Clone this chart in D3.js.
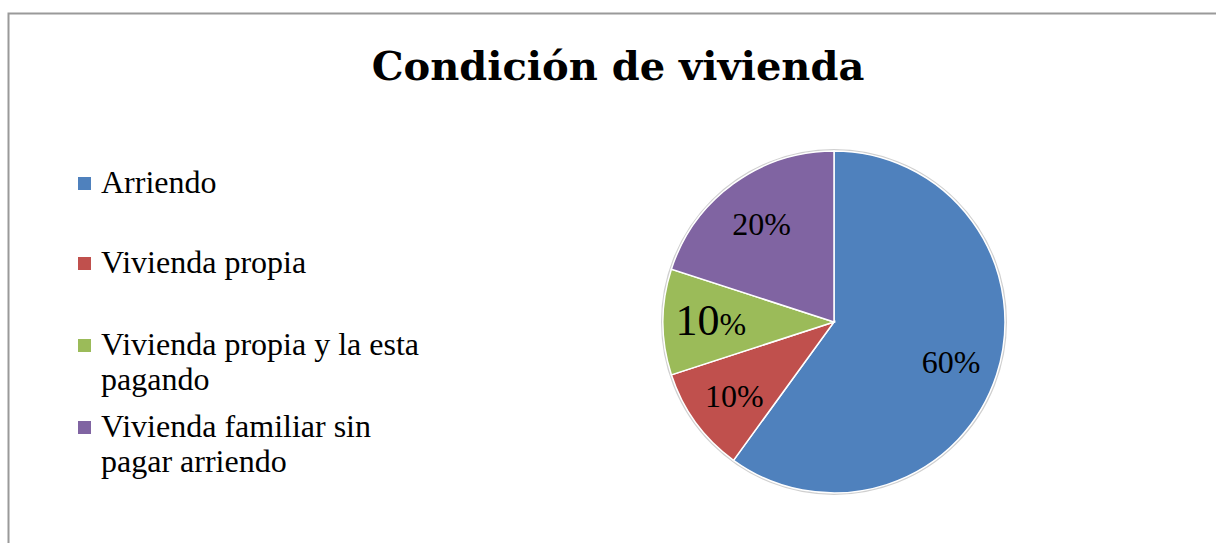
<!DOCTYPE html>
<html>
<head>
<meta charset="utf-8">
<script src="https://cdn.jsdelivr.net/npm/d3@7"></script>
<style>
  body { margin: 0; background: #fff; }
  svg { display: block; }
</style>
</head>
<body>
<div id="chart"></div>
<script>
// Data
const categories = [
  "Arriendo",
  "Vivienda propia",
  "Vivienda propia y la esta pagando",
  "Vivienda familiar sin pagar arriendo",
];
const values = [60, 10, 10, 20];
const legendLines = [
  ["Arriendo"],
  ["Vivienda propia"],
  ["Vivienda propia y la esta", "pagando"],
  ["Vivienda familiar sin", "pagar arriendo"],
];
const colors = ["#4F81BD", "#C0504D", "#9BBB59", "#8064A2"];

const width = 1216;
const height = 543;
const titleFont = "'DejaVu Serif', 'Liberation Serif', serif";
const bodyFont = "'Liberation Serif', 'DejaVu Serif', serif";

const svg = d3
  .select("#chart")
  .append("svg")
  .attr("width", width)
  .attr("height", height);

// Frame (runs off the right and bottom edges)
svg
  .append("rect")
  .attr("x", 8.5)
  .attr("y", 13.5)
  .attr("width", width + 20)
  .attr("height", height + 20)
  .attr("fill", "none")
  .attr("stroke", "#9a9a9a")
  .attr("stroke-width", 2);

// Title
svg
  .append("text")
  .attr("x", 618)
  .attr("y", 80)
  .attr("text-anchor", "middle")
  .style("font-family", titleFont)
  .style("font-size", "40px")
  .style("font-weight", "bold")
  .text("Condición de vivienda");

// Pie
const cx = 834;
const cy = 322;
const radius = 171;

const pie = d3.pie().sort(null).value((d) => d);
const arcs = pie(values);

const arc = d3.arc().innerRadius(0).outerRadius(radius);
const labelArc = d3
  .arc()
  .innerRadius(radius * 0.72)
  .outerRadius(radius * 0.72);

const g = svg.append("g").attr("transform", `translate(${cx},${cy})`);

g.append("circle")
  .attr("r", radius + 1)
  .attr("fill", "none")
  .attr("stroke", "#d0d0d0")
  .attr("stroke-width", 2);

g.selectAll("path.slice")
  .data(arcs)
  .join("path")
  .attr("class", "slice")
  .attr("d", arc)
  .attr("fill", (d, i) => colors[i])
  .attr("stroke", "#fff")
  .attr("stroke-width", 1.5);

// Slice labels (the green one has a bigger number, as in the original)
const labels = g
  .selectAll("text.label")
  .data(arcs)
  .join("text")
  .attr("class", "label")
  .attr("transform", (d) => `translate(${labelArc.centroid(d)})`)
  .attr("text-anchor", "middle")
  .attr("dy", "0.4em")
  .style("font-family", bodyFont)
  .style("font-size", "32px")
  .style("fill", "#000");

labels.each(function (d, i) {
  const t = d3.select(this);
  if (i === 2) {
    t.append("tspan").style("font-size", "44px").text(d.data);
    t.append("tspan").text("%");
  } else {
    t.text(d.data + "%");
  }
});

// Legend
const legendY = [193, 273, 355, 437];
const legend = svg.append("g");

legendLines.forEach((lines, i) => {
  const row = legend.append("g").attr("transform", `translate(78, ${legendY[i]})`);

  row
    .append("rect")
    .attr("x", 0)
    .attr("y", -16)
    .attr("width", 13)
    .attr("height", 13)
    .attr("fill", colors[i]);

  const text = row
    .append("text")
    .attr("x", 23)
    .attr("y", 0)
    .style("font-family", bodyFont)
    .style("font-size", "32px")
    .style("fill", "#000");

  lines.forEach((line, j) => {
    text
      .append("tspan")
      .attr("x", 23)
      .attr("dy", j === 0 ? 0 : 35)
      .text(line);
  });
});
</script>
</body>
</html>
